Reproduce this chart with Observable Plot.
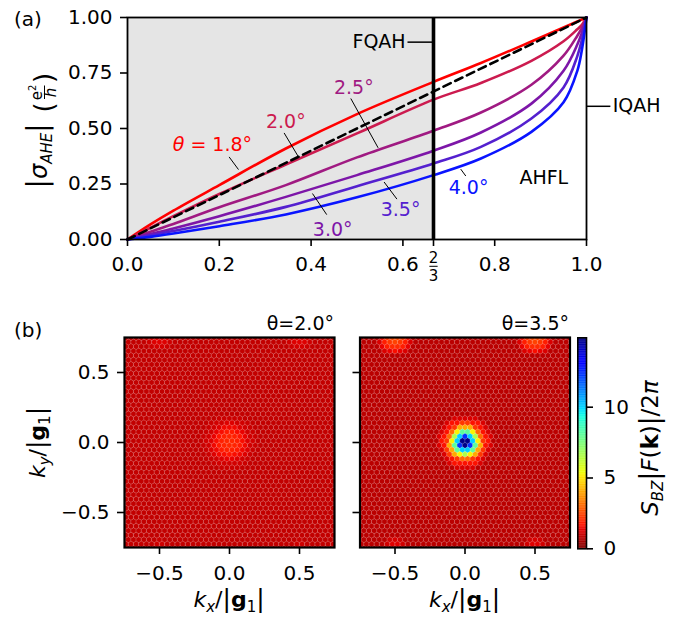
<!DOCTYPE html>
<html><head><meta charset="utf-8">
<script src="https://cdn.jsdelivr.net/npm/d3@7"></script>
<script src="https://cdn.jsdelivr.net/npm/@observablehq/plot@0.6"></script>
<style>
body{margin:0;background:#fff;}
#fig{position:relative;width:689px;height:623px;font-family:"DejaVu Sans";}
</style></head><body><div id="fig"></div>
<script>
// ---------- Panel (a) data ----------
const fillingX = [0, 0.05, 0.1, 0.2, 0.345, 0.5, 2/3, 0.77, 0.88, 0.95, 0.98, 0.99, 1];
const thetaNames = ["θ = 1.8°", "2.0°", "2.5°", "3.0°", "3.5°", "4.0°"];
const curveColors = ["#ff0000", "#cc1b4f", "#a01a82", "#7d16a8", "#5420cf", "#0a14ff"];
const sigma18 = [0, 0.068, 0.13, 0.245, 0.41, 0.565, 0.71, 0.795, 0.892, 0.955, 0.982, 0.991, 1];
const sigma20 = [0, 0.053, 0.105, 0.205, 0.338, 0.478, 0.63, 0.705, 0.805, 0.893, 0.947, 0.967, 1];
const sigma25 = [0, 0.035, 0.07, 0.145, 0.245, 0.37, 0.49, 0.572, 0.697, 0.828, 0.918, 0.953, 1];
const sigma30 = [0, 0.025, 0.05, 0.105, 0.192, 0.29, 0.40, 0.482, 0.612, 0.76, 0.878, 0.932, 1];
const sigma35 = [0, 0.019, 0.038, 0.08, 0.147, 0.24, 0.342, 0.417, 0.545, 0.685, 0.826, 0.9, 1];
const sigma40 = [0, 0.012, 0.027, 0.06, 0.113, 0.19, 0.29, 0.365, 0.485, 0.618, 0.76, 0.855, 1];
const sigmaSeries = [sigma18, sigma20, sigma25, sigma30, sigma35, sigma40];
const diagX = [0, 1];
const fqahFraction = 2/3;
const xTicksA = [0, 0.2, 0.4, 0.6, 2/3, 0.8, 1];
const yTicksA = [0, 0.25, 0.5, 0.75, 1];
// label anchors (data coords)
const labelX = [0.185, 0.345, 0.493, 0.447, 0.595, 0.743];
const labelY = [0.425, 0.528, 0.681, 0.042, 0.132, 0.231];
const leaderX1 = [0.2214, 0.3412, 0.4865, 0.403, 0.559, 0.726];
const leaderY1 = [0.372, 0.480, 0.635, 0.207, 0.259, 0.317];
const leaderX2 = [0.2418, 0.3725, 0.546, 0.434, 0.587, 0.737];
const leaderY2 = [0.315, 0.372, 0.413, 0.112, 0.182, 0.286];
const phaseNames = ["FQAH", "IQAH", "AHFL"];
const phaseX = [0.606, 1.057, 0.907];
const phaseY = [0.889, 0.600, 0.276];

// ---------- Panel (b) data ----------
const panelTitles = ["θ=2.0°", "θ=3.5°"];
const kTicks = [-0.5, 0, 0.5];
const cbarTicks = [0, 5, 10];
const cbarMax = 14.9;
const latticeStep = 1 / 27;
const backgroundLevel = [0.85, 0.75];
const ringRadii = [0.7, 1.25, 1.6, 2.1, 2.4, 2.7, 3.1, 3.5, 4.0, 4.6, 5.3];
const centerValues20 = [1.95, 1.9, 1.85, 1.75, 1.65, 1.55, 1.45, 1.35, 1.2, 1.05, 0.95];
const centerValues35 = [14.8, 12.3, 10, 8, 6.6, 5.2, 4.0, 3.0, 2.2, 1.6, 1.15];
const edgeSpotKx = [-0.5, 0.5, -0.5, 0.5];
const edgeSpotKy = [0.75, 0.75, -0.75, -0.75];
const edgeTop20 = [1.3, 1.25, 1.2, 1.1, 1.0];
const edgeTop35 = [2.5, 2.4, 2.2, 2.0, 1.8, 1.55, 1.35, 1.15];
const edgeBottom20 = [1.05, 1.0, 0.95];
const edgeBottom35 = [1.3, 1.25, 1.15, 1.05, 0.95];
// jet colormap stops (position, colour), used reversed
const jetPos = [0, 0.11, 0.125, 0.34, 0.35, 0.375, 0.64, 0.65, 0.66, 0.89, 0.91, 1];
const jetColors = ["#000080", "#0000ff", "#0000ff", "#00dbff", "#00e6f7", "#15ffe2", "#eeff08", "#f7f500", "#ffec00", "#ff1300", "#e80000", "#800000"];

const jet = d3.scaleLinear().domain(jetPos.map(p => (1 - p) * cbarMax)).range(jetColors).interpolate(d3.interpolateRgb).clamp(true);

const fig = document.getElementById("fig");
function place(el, left, top) {
  el.style.position = "absolute"; el.style.left = left + "px"; el.style.top = top + "px";
  fig.appendChild(el);
}
const baseStyle = {fontFamily: "DejaVu Sans", fontSize: "20px", color: "black", background: "transparent", overflow: "visible"};

// ---------- Panel (a) ----------
const curveRows = [];
sigmaSeries.forEach((s, k) => s.forEach((v, i) => curveRows.push({x: fillingX[i], y: v, k})));
const diagRows = diagX.map(x => ({x, y: x}));
const labelRows = thetaNames.map((t, k) => ({t, x: labelX[k], y: labelY[k], c: curveColors[k]}));
const leaderRows = leaderX1.map((x, k) => ({x1: x, y1: leaderY1[k], x2: leaderX2[k], y2: leaderY2[k]}));
const phaseRows = phaseNames.map((t, k) => ({t, x: phaseX[k], y: phaseY[k]}));

const plotA = Plot.plot({
  width: 689, height: 300,
  marginLeft: 127, marginRight: 103, marginTop: 17, marginBottom: 61,
  style: baseStyle,
  x: {domain: [0, 1]}, y: {domain: [0, 1]},
  marks: [
    Plot.rect([0], {x1: 0, x2: fqahFraction, y1: 0, y2: 1, fill: "#e5e5e5"}),
    ...sigmaSeries.map((s, k) => Plot.line(curveRows.filter(d => d.k === k), {x: "x", y: "y", stroke: curveColors[k], strokeWidth: 2.6, curve: "catmull-rom"})),
    Plot.line(diagRows, {x: "x", y: "y", stroke: "black", strokeWidth: 2.6, strokeDasharray: "8,5"}),
    Plot.link(leaderRows, {x1: "x1", y1: "y1", x2: "x2", y2: "y2", stroke: "black", strokeWidth: 1}),
    Plot.text(labelRows, {x: "x", y: "y", text: "t", fill: "c", fontSize: 19}),
    Plot.text(phaseRows.slice(0, 1), {x: "x", y: "y", text: "t", textAnchor: "end", fontSize: 19}),
    Plot.text(phaseRows.slice(1, 2), {x: "x", y: "y", text: "t", textAnchor: "start", fontSize: 19}),
    Plot.text(phaseRows.slice(2), {x: "x", y: "y", text: "t", fontSize: 19}),
    Plot.link([0], {x1: 0.61, x2: fqahFraction, y1: phaseY[0], y2: phaseY[0], stroke: "black", strokeWidth: 1.5}),
    Plot.link([0], {x1: 1, x2: 1.052, y1: phaseY[1], y2: phaseY[1], stroke: "black", strokeWidth: 1.5}),
    Plot.ruleX([fqahFraction], {y1: 0, y2: 1, stroke: "black", strokeWidth: 3.6}),
    Plot.frame({stroke: "black", strokeWidth: 1.8}),
    Plot.axisX({ticks: xTicksA, tickFormat: d => Math.abs(d - 2/3) < 1e-9 ? "" : d.toFixed(1), tickSize: 7, tickPadding: 10, strokeWidth: 1.6, label: null}),
    Plot.axisY({ticks: yTicksA, tickFormat: d => d.toFixed(2), tickSize: 7, tickPadding: 8, strokeWidth: 1.6, label: null}),
    Plot.text([fqahFraction], {x: d => d, y: 0, text: () => "2", dy: 18.2, fontSize: 15}),
    Plot.text([fqahFraction], {x: d => d, y: 0, text: () => "3", dy: 36.4, fontSize: 15}),
    Plot.link([0], {x1: fqahFraction - 0.009, x2: fqahFraction + 0.009, y1: 0, y2: 0, dy: 26.8, stroke: "black", strokeWidth: 1})
  ]
});
place(plotA, 0, 0);
// italic theta in the first label
d3.select(plotA).selectAll("text").filter(function() { return this.textContent === thetaNames[0]; }).each(function() {
  const t = d3.select(this); t.text(null);
  t.append("tspan").attr("font-style", "italic").text("θ");
  t.append("tspan").text(" = 1.8°");
});

// ---------- Panel (b) ----------
function buildCells(p) {
  const bg = backgroundLevel[p];
  const spots = [
    {kx: 0, ky: 0, vals: p ? centerValues35 : centerValues20},
    {kx: edgeSpotKx[0], ky: edgeSpotKy[0], vals: p ? edgeTop35 : edgeTop20},
    {kx: edgeSpotKx[1], ky: edgeSpotKy[1], vals: p ? edgeTop35 : edgeTop20},
    {kx: edgeSpotKx[2], ky: edgeSpotKy[2], vals: p ? edgeBottom35 : edgeBottom20},
    {kx: edgeSpotKx[3], ky: edgeSpotKy[3], vals: p ? edgeBottom35 : edgeBottom20}
  ];
  const a = latticeStep, h = a * Math.sqrt(3) / 2, y0 = a / (2 * Math.sqrt(3));
  const cells = [];
  for (let j = -26; j <= 26; j++) {
    const y = y0 - j * h;
    const off = (((j % 2) + 2) % 2) ? 0 : 0.5;
    for (let i = -24; i <= 24; i++) {
      const x = (i + off) * a;
      let v = bg;
      for (const s of spots) {
        const d = Math.hypot(x - s.kx, y - s.ky) / a;
        const k = ringRadii.findIndex(r => d <= r);
        if (k >= 0 && k < s.vals.length) v = Math.max(v, s.vals[k]);
      }
      cells.push({kx: x, ky: y, color: jet(v)});
    }
  }
  return cells;
}
const kFmt = d => (d < 0 ? "\u2212" : "") + Math.abs(d).toFixed(1);
function heatPlot(p, width, mL, mR, showLabels) {
  const pw = width - mL - mR;
  const r = (pw / 1.5) * latticeStep / 2 + 0.15;
  return Plot.plot({
    width, height: 323, marginLeft: mL, marginRight: mR, marginTop: 37, marginBottom: 76,
    style: baseStyle,
    x: {domain: [-0.75, 0.75]}, y: {domain: [-0.75, 0.75]},
    color: {type: "identity"},
    marks: [
      Plot.dot(buildCells(p), {x: "kx", y: "ky", symbol: "hexagon", r, fill: "color", stroke: "white", strokeOpacity: 0.3, strokeWidth: 0.6, clip: true}),
      Plot.frame({stroke: "black", strokeWidth: 2.2}),
      Plot.axisX({ticks: kTicks, tickFormat: kFmt, tickSize: 7, tickPadding: 11, strokeWidth: 1.6, label: null}),
      Plot.axisY({ticks: kTicks, tickFormat: showLabels ? kFmt : () => "", tickSize: 7, tickPadding: 8, strokeWidth: 1.6, label: null})
    ]
  });
}
place(heatPlot(0, 345, 124, 11, true), 0, 300);
place(heatPlot(1, 230, 14.5, 5.5, false), 345, 300);

const cbarSteps = d3.range(0, 300).map(i => i * cbarMax / 300);
const cbar = Plot.plot({
  width: 119, height: 323, marginLeft: 7.3, marginRight: 103, marginTop: 37.3, marginBottom: 74.7,
  style: baseStyle,
  x: {domain: [0, 1], axis: null}, y: {domain: [0, cbarMax]},
  color: {type: "identity"},
  marks: [
    Plot.rect(cbarSteps, {x1: 0, x2: 1, y1: d => d, y2: d => d + cbarMax / 300 + 0.02, fill: d => jet(d)}),
    Plot.frame({stroke: "black", strokeWidth: 1.6}),
    Plot.axisY({anchor: "right", ticks: cbarTicks, tickFormat: d => String(d), tickSize: 6, tickPadding: 11, strokeWidth: 1.6, label: null})
  ]
});
place(cbar, 570, 300);

// ---------- Text overlay ----------
const ov = d3.select(fig).append("svg").attr("width", 689).attr("height", 623)
  .style("position", "absolute").style("left", "0px").style("top", "0px")
  .style("overflow", "visible").style("pointer-events", "none")
  .attr("font-family", "DejaVu Sans").attr("fill", "black");
function rich(g, parts, x, y, size, anchor) {
  const t = g.append("text").attr("x", x).attr("y", y).attr("font-size", size).attr("text-anchor", anchor || "start");
  for (const p of parts) {
    const s = t.append("tspan").text(p.t);
    if (p.i) s.attr("font-style", "italic");
    if (p.b) s.attr("font-weight", "bold");
    if (p.s) s.attr("font-size", p.s);
    if (p.dy) s.attr("dy", p.dy);
  }
  return t;
}
rich(ov, [{t: "(a)"}], 14, 25.5, 20);
rich(ov, [{t: "(b)"}], 14, 336.7, 20);
// y label panel (a)
const ga = ov.append("g").attr("transform", "translate(40,130.5) rotate(-90)");
rich(ga, [{t: "|", s: 28}, {t: "σ", i: 1, s: 24}, {t: "AHE", i: 1, s: 15, dy: 5}, {t: "|", s: 28, dy: -5}], -58, 7, 22);
rich(ga, [{t: "("}], 18, 13, 26);
rich(ga, [{t: "e"}, {t: "2", s: 10, dy: -6}], 38, 1.5, 15, "middle");
ga.append("line").attr("x1", 31.5).attr("x2", 45).attr("y1", 4.5).attr("y2", 4.5).attr("stroke", "black").attr("stroke-width", 1);
rich(ga, [{t: "h", i: 1}], 38, 15.5, 15, "middle");
rich(ga, [{t: ")"}], 47.5, 13, 26);
// heatmap titles
rich(ov, [{t: panelTitles[0]}], 334, 330, 19, "end");
rich(ov, [{t: panelTitles[1]}], 569, 330, 19, "end");
// k labels
const kxParts = [{t: "k", i: 1}, {t: "x", i: 1, s: 15, dy: 5}, {t: "/", dy: -5}, {t: "|", s: 25}, {t: "g", b: 1}, {t: "1", s: 15, dy: 5}, {t: "|", s: 25, dy: -5}];
rich(ov, kxParts, 229, 607, 22, "middle");
rich(ov, kxParts, 464.5, 607, 22, "middle");
const gk = ov.append("g").attr("transform", "translate(45,442.5) rotate(-90)");
rich(gk, [{t: "k", i: 1}, {t: "y", i: 1, s: 15, dy: 5}, {t: "/", dy: -5}, {t: "|", s: 25}, {t: "g", b: 1}, {t: "1", s: 15, dy: 5}, {t: "|", s: 25, dy: -5}], 0, 0, 22, "middle");
// colorbar label
const gc = ov.append("g").attr("transform", "translate(658,448) rotate(-90)");
rich(gc, [{t: "S", i: 1}, {t: "BZ", i: 1, s: 15, dy: 5}, {t: "|", s: 26, dy: -5}, {t: "F", i: 1}, {t: "("}, {t: "k", b: 1}, {t: ")"}, {t: "|", s: 26}, {t: "/2"}, {t: "π", i: 1}], 0, 0, 23, "middle");
</script></body></html>
